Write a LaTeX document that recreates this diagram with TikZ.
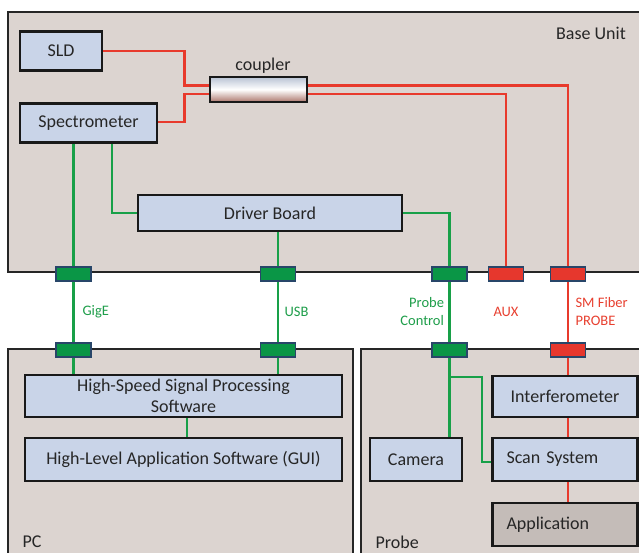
\documentclass[tikz,border=0pt]{standalone}
\usepackage{fontspec}
\setmainfont{Carlito}
\definecolor{bgbox}{RGB}{220,212,208}
\definecolor{bluebox}{RGB}{201,212,232}
\definecolor{appbox}{RGB}{196,188,184}
\definecolor{gline}{RGB}{24,160,72}
\definecolor{rline}{RGB}{232,58,44}
\definecolor{gfill}{RGB}{10,150,70}
\definecolor{rfill}{RGB}{230,55,45}
\definecolor{cborder}{RGB}{40,70,105}
\definecolor{gtext}{RGB}{30,158,74}
\definecolor{rtext}{RGB}{232,64,48}
\begin{document}
\begin{tikzpicture}[x=1pt,y=-1pt,
  bigtext/.style={font=\fontsize{18}{21}\selectfont},
  smalltext/.style={font=\fontsize{14.5}{18}\selectfont},
  region/.style={draw=black!85,line width=2.2pt,fill=bgbox},
  blk/.style={draw=black!90,line width=2.8pt,fill=bluebox,bigtext,inner sep=0pt,text=black!85},
  conn/.style={draw=cborder,line width=1.8pt,minimum width=35pt,minimum height=14pt,inner sep=0pt},
  gconn/.style={conn,fill=gfill},
  rconn/.style={conn,fill=rfill},
  gl/.style={draw=gline,line width=2.6pt},
  rl/.style={draw=rline,line width=2.6pt}]
\useasboundingbox (0,0) rectangle (639,553);
\clip (0,0) rectangle (639,553);
\fill[white] (0,0) rectangle (639,553);
% regions
\draw[region] (8,12) rectangle (660,272);
\draw[region] (8,349) rectangle (353,570);
\draw[region] (361,349) rectangle (660,570);
\node[bigtext,text=black!85] (baselbl) at (591,33) {Base Unit};
\node[bigtext,text=black!85,anchor=west] (pclbl) at (19,542) {PC};
\node[bigtext,text=black!85,anchor=west] (probelbl) at (372,542) {Probe};
% blocks
\node[blk,minimum width=82pt,minimum height=39pt] (sld) at (61,51) {SLD};
\node[blk,minimum width=137pt,minimum height=39pt] (spec) at (88.5,123) {Spectrometer};
\node[draw=black!90,line width=2.6pt,minimum width=97pt,minimum height=25pt,inner sep=0pt,
  top color={rgb,255:red,185;green,195;blue,212},bottom color={rgb,255:red,172;green,118;blue,108},middle color=white] (coupler) at (258.5,89.5) {};
\node[bigtext,text=black!85] (couplerlbl) at (263,66) {coupler};
\node[blk,minimum width=264pt,minimum height=36pt] (driver) at (270,213) {Driver Board};
\node[blk,minimum width=317pt,minimum height=42pt,align=center] (hssp) at (183.5,396) {High-Speed Signal Processing\\Software};
\node[blk,minimum width=317pt,minimum height=43pt] (hlas) at (183.5,459.5) {High-Level Application Software (GUI)};
\node[blk,minimum width=145pt,minimum height=41pt] (interf) at (565,396.5) {Interferometer};
\node[blk,minimum width=92pt,minimum height=43pt] (camera) at (416,459.5) {Camera};
\node[blk,minimum width=145pt,minimum height=43pt,text width=117pt,align=left] (scan) at (565,459.5) {Scan System};
\node[blk,fill=appbox,minimum width=145pt,minimum height=43pt,text width=117pt,align=left] (app) at (565,524.5) {Application};
% connectors
\node[gconn] (c1u) at (73.5,274) {};
\node[gconn] (c2u) at (278,274) {};
\node[gconn] (c3u) at (449.5,274) {};
\node[rconn] (c4u) at (506,274) {};
\node[rconn] (c5u) at (568,274) {};
\node[gconn] (c1l) at (73.5,350) {};
\node[gconn] (c2l) at (278,350) {};
\node[gconn] (c3l) at (449.5,350) {};
\node[rconn] (c5l) at (568,350) {};
% red fiber
\draw[rl] (sld.east) -- ++(81,0) |- ([yshift=4pt]coupler.west);
\draw[rl] ([yshift=1pt]spec.east) -- ++(26,0) |- ([yshift=-4.5pt]coupler.west);
\draw[rl] ([yshift=4pt]coupler.east) -| (c5u.north);
\draw[rl] ([yshift=-4.5pt]coupler.east) -| (c4u.north);
\draw[rl] (c5u.south) -- (c5l.north);
\draw[rl] (c5l.south) -- (c5l.south |- interf.north);
\draw[rl] (c5l.south |- interf.south) -- (c5l.south |- scan.north);
\draw[rl] (c5l.south |- scan.south) -- (c5l.south |- app.north);
% green electrical
\draw[gl] (c1u.north |- spec.south) -- (c1u.north);
\draw[gl] ([xshift=23.5pt]spec.south) |- (driver.west);
\draw[gl] (c2u.north |- driver.south) -- (c2u.north);
\draw[gl] (driver.east) -| (c3u.north);
\draw[gl] (c1u.south) -- (c1l.north);
\draw[gl] (c2u.south) -- (c2l.north);
\draw[gl] (c3u.south) -- (c3l.north);
\draw[gl] (c1l.south) -- (c1l.south |- hssp.north);
\draw[gl] (c2l.south) -- (c2l.south |- hssp.north);
\draw[gl] ([xshift=3.5pt]hssp.south) -- ([xshift=3.5pt]hlas.north);
\draw[gl] (c3l.south) -- (c3l.south |- camera.north);
\coordinate (br) at (449.5,377);
\draw[gl] (br) -- ++(32.5,0) |- ([yshift=-2.5pt]scan.west);
% link labels
\node[smalltext,text=gtext,anchor=west] (gige) at (79,312) {GigE};
\node[smalltext,text=gtext,anchor=west] (usb) at (281,312) {USB};
\node[smalltext,text=gtext,anchor=east,align=right] (pctl) at (447.5,312) {Probe\\Control};
\node[smalltext,text=rtext] (aux) at (506,312) {AUX};
\node[smalltext,text=rtext,anchor=west,align=left] (smf) at (572,312) {SM Fiber\\PROBE};
\end{tikzpicture}
\end{document}
